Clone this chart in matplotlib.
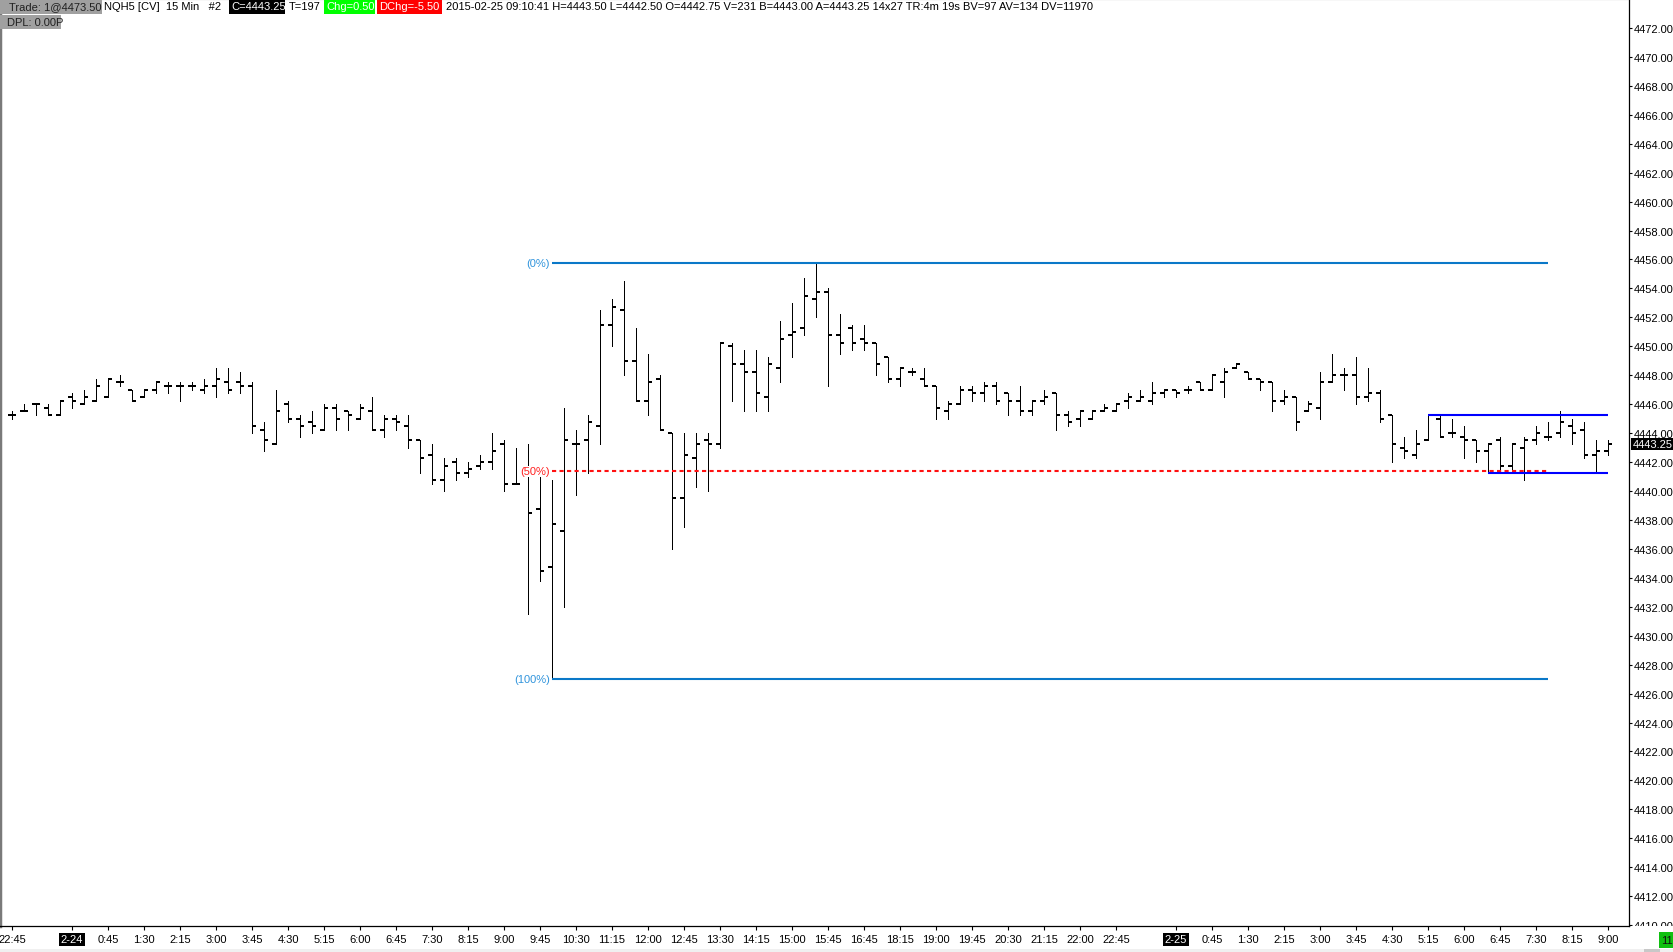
import matplotlib.pyplot as plt
from matplotlib.patches import Rectangle

# ---------------------------------------------------------------------------
#       DATA  (NQH5, 15 min bars, 2015-02-23 22:45 -> 2015-02-25 09:00)
# ---------------------------------------------------------------------------
opens = [4445.25, 4445.5, 4446.0, 4445.75, 4445.25, 4446.5, 4446.0, 4446.25, 4446.5, 4447.5,
         4447.0, 4446.5, 4447.0, 4447.25, 4447.25, 4447.25, 4447.0, 4447.25, 4447.5, 4447.5,
         4447.25, 4444.25, 4443.25, 4446.0, 4445.0, 4444.75, 4444.25, 4445.75, 4445.5, 4445.0,
         4445.5, 4444.25, 4445.0, 4444.5, 4443.5, 4442.5, 4440.75, 4442.0, 4441.25, 4441.75,
         4442.0, 4443.25, 4440.5, 4441.25, 4438.75, 4434.75, 4437.25, 4443.25, 4443.5, 4444.5,
         4451.5, 4452.5, 4449.0, 4446.25, 4447.75, 4444.0, 4439.5, 4442.25, 4443.5, 4443.25,
         4450.0, 4448.75, 4448.25, 4446.5, 4448.5, 4450.75, 4451.25, 4453.25, 4453.75, 4450.75,
         4451.25, 4450.5, 4450.25, 4449.25, 4447.75, 4448.25, 4447.75, 4447.25, 4445.5, 4446.0,
         4447.0, 4446.75, 4447.25, 4446.75, 4446.25, 4445.5, 4446.25, 4446.75, 4445.25, 4445.0,
         4445.0, 4445.5, 4445.5, 4446.25, 4446.25, 4446.25, 4446.75, 4447.0, 4447.0, 4447.5,
         4447.0, 4447.5, 4448.5, 4448.25, 4447.75, 4447.5, 4446.25, 4446.5, 4445.5, 4445.75,
         4447.5, 4448.0, 4448.0, 4446.5, 4446.75, 4445.25, 4443.0, 4442.5, 4443.5, 4445.0,
         4444.0, 4443.75, 4443.5, 4442.75, 4443.5, 4441.75, 4443.0, 4443.5, 4443.75, 4444.0,
         4444.5, 4444.25, 4442.5, 4442.75]
highs = [4445.5, 4446.0, 4446.0, 4446.0, 4446.25, 4446.75, 4447.0, 4447.75, 4447.75, 4448.0,
         4447.0, 4447.0, 4447.5, 4447.5, 4447.5, 4447.5, 4447.75, 4448.5, 4448.5, 4448.25,
         4447.5, 4444.75, 4447.0, 4446.25, 4445.25, 4445.5, 4446.0, 4446.0, 4445.5, 4446.0,
         4446.5, 4445.25, 4445.25, 4445.25, 4443.5, 4443.25, 4442.25, 4442.25, 4442.0, 4442.5,
         4444.0, 4443.5, 4443.0, 4443.25, 4441.0, 4440.75, 4445.75, 4444.25, 4445.25, 4452.5,
         4453.25, 4454.5, 4451.25, 4449.5, 4448.0, 4444.0, 4444.0, 4444.0, 4444.0, 4450.25,
         4450.25, 4449.75, 4449.75, 4449.25, 4451.75, 4453.0, 4454.75, 4455.75, 4454.0, 4452.25,
         4451.5, 4451.5, 4450.25, 4449.25, 4448.5, 4448.5, 4448.5, 4447.25, 4446.25, 4447.25,
         4447.25, 4447.5, 4447.5, 4446.75, 4447.25, 4446.25, 4447.0, 4446.75, 4445.5, 4445.5,
         4445.5, 4446.0, 4446.0, 4446.75, 4447.0, 4447.5, 4447.0, 4447.0, 4447.25, 4447.5,
         4448.0, 4448.5, 4448.75, 4448.25, 4447.75, 4447.5, 4447.0, 4446.5, 4446.25, 4448.25,
         4449.5, 4448.5, 4449.25, 4448.5, 4447.0, 4445.25, 4443.75, 4444.25, 4445.25, 4445.25,
         4445.0, 4444.5, 4443.5, 4443.25, 4443.75, 4443.25, 4443.75, 4444.5, 4444.75, 4445.5,
         4445.0, 4444.75, 4443.5, 4443.5]
lows = [4445.0, 4445.5, 4445.25, 4445.25, 4445.25, 4445.75, 4446.0, 4446.25, 4446.5, 4447.25,
        4446.25, 4446.5, 4446.75, 4446.75, 4446.25, 4447.0, 4446.75, 4446.5, 4446.75, 4446.75,
        4444.0, 4442.75, 4443.25, 4444.75, 4443.75, 4444.0, 4444.25, 4444.25, 4444.25, 4445.0,
        4444.25, 4443.75, 4444.25, 4443.0, 4441.25, 4440.5, 4440.0, 4440.75, 4441.0, 4441.5,
        4441.5, 4440.0, 4440.5, 4431.5, 4433.75, 4427.0, 4432.0, 4439.75, 4441.25, 4443.25,
        4450.0, 4448.0, 4446.25, 4445.25, 4444.25, 4436.0, 4437.5, 4440.25, 4440.0, 4443.0,
        4446.25, 4445.5, 4445.5, 4445.5, 4447.5, 4449.25, 4450.75, 4452.0, 4447.25, 4449.5,
        4449.75, 4449.75, 4448.0, 4447.5, 4447.25, 4448.0, 4447.25, 4445.0, 4445.0, 4446.0,
        4446.25, 4446.25, 4446.0, 4445.25, 4445.25, 4445.25, 4446.0, 4444.25, 4444.5, 4444.5,
        4445.0, 4445.5, 4445.5, 4445.75, 4446.25, 4446.0, 4446.5, 4446.5, 4446.75, 4447.0,
        4447.0, 4446.5, 4448.5, 4447.75, 4447.0, 4445.5, 4446.0, 4444.25, 4445.5, 4445.0,
        4447.5, 4447.0, 4446.0, 4446.25, 4444.75, 4442.0, 4442.25, 4442.25, 4443.5, 4443.75,
        4443.75, 4442.25, 4442.0, 4441.25, 4441.5, 4441.5, 4440.75, 4443.25, 4443.5, 4443.75,
        4443.25, 4442.25, 4441.25, 4442.5]
closes = [4445.25, 4445.5, 4446.0, 4445.25, 4446.25, 4446.25, 4446.5, 4447.25, 4447.75, 4447.5,
          4446.25, 4447.0, 4447.5, 4447.25, 4447.25, 4447.25, 4447.25, 4447.75, 4447.0, 4447.25,
          4444.5, 4443.5, 4445.5, 4445.0, 4444.5, 4444.5, 4445.75, 4445.0, 4445.25, 4445.75,
          4444.25, 4445.0, 4444.75, 4443.5, 4442.25, 4440.75, 4441.75, 4441.25, 4441.5, 4442.0,
          4442.75, 4440.5, 4440.5, 4438.5, 4434.5, 4437.75, 4443.5, 4443.25, 4444.75, 4451.5,
          4452.75, 4449.0, 4446.25, 4447.5, 4444.25, 4439.5, 4442.5, 4443.25, 4443.25, 4450.25,
          4448.75, 4448.25, 4446.75, 4448.75, 4450.5, 4451.0, 4453.5, 4453.75, 4450.75, 4450.25,
          4450.25, 4450.25, 4448.75, 4447.75, 4448.5, 4448.25, 4447.25, 4445.75, 4446.0, 4447.0,
          4446.75, 4447.25, 4446.25, 4446.25, 4445.5, 4446.25, 4446.5, 4445.25, 4444.75, 4445.5,
          4445.5, 4445.75, 4446.0, 4446.5, 4446.5, 4446.75, 4447.0, 4446.75, 4447.0, 4447.0,
          4448.0, 4448.25, 4448.75, 4447.75, 4447.5, 4446.25, 4446.5, 4444.75, 4446.0, 4447.5,
          4448.0, 4448.0, 4446.5, 4446.75, 4445.0, 4443.25, 4442.75, 4443.25, 4445.25, 4443.75,
          4444.0, 4443.5, 4442.75, 4443.25, 4441.75, 4443.25, 4443.5, 4444.0, 4443.75, 4444.75,
          4444.0, 4442.5, 4442.75, 4443.25]

# x axis labels (bar index -> text)
tick_pos = [0, 5, 8, 11, 14, 17, 20, 23, 26, 29, 32, 35, 38, 41, 44, 47, 50, 53, 56, 59, 62, 65,
            68, 71, 74, 77, 80, 83, 86, 89, 92, 97, 100, 103, 106, 109, 112, 115, 118, 121, 124,
            127, 130, 133]
tick_text = ['22:45', '2-24', '0:45', '1:30', '2:15', '3:00', '3:45', '4:30', '5:15', '6:00',
             '6:45', '7:30', '8:15', '9:00', '9:45', '10:30', '11:15', '12:00', '12:45', '13:30',
             '14:15', '15:00', '15:45', '16:45', '18:15', '19:00', '19:45', '20:30', '21:15',
             '22:00', '22:45', '2-25', '0:45', '1:30', '2:15', '3:00', '3:45', '4:30', '5:15',
             '6:00', '6:45', '7:30', '8:15', '9:00']

# drawings on the chart
fib_end = 128
box_top, box_top_start = 4445.25, 118
box_bot, box_bot_start = 4441.25, 123
box_end = 133

# ---------------------------------------------------------------------------
#       PLOT
# ---------------------------------------------------------------------------
W, H = 1673, 953
plt.rcParams['font.family'] = ['Liberation Sans', 'DejaVu Sans']
fig = plt.figure(figsize=(W / 100, H / 100), dpi=100)
ax = fig.add_axes([0, (H - 927) / H, 1629 / W, 927 / H])

n = len(closes)
xs = list(range(n))
tw = 0.32
ax.vlines(xs, lows, highs, color='black', lw=0.72, antialiased=False)
ax.hlines(opens, [x - tw for x in xs], xs, color='black', lw=1.44, antialiased=False)
ax.hlines(closes, xs, [x + tw for x in xs], color='black', lw=1.44, antialiased=False)

# fibonacci retracement
hi, lo = max(highs), min(lows)
fib_start = lows.index(lo)
mid = (hi + lo) / 2
ax.hlines([hi, lo], fib_start, fib_end, color='#0a78c8', lw=1.5)
ax.hlines(mid, fib_start, fib_end, color='#ff1010', lw=1.5, linestyles=(0, (2, 1.6)))
for val, txt, col in [(hi, '(0%)', '#3094dc'), (mid, '(50%)', '#ff2020'), (lo, '(100%)', '#3094dc')]:
    ax.text(fib_start - 0.15, val, txt, ha='right', va='center', color=col, fontsize=8, zorder=5,
            bbox=dict(facecolor='white', edgecolor='none', pad=0.3))

# range box
ax.hlines(box_top, box_top_start, box_end, color='#0000ff', lw=1.5)
ax.hlines(box_bot, box_bot_start, box_end, color='#0000ff', lw=1.5)

ax.set_xlim(-1, 134.75)
ax.set_ylim(4409.94, 4474.0)

ax.yaxis.tick_right()
yt = [4410 + 2 * k for k in range(32)]
ax.set_yticks(yt)
ax.set_yticklabels(['%.2f' % v for v in yt])
ax.tick_params(axis='y', direction='out', length=2.5, width=0.8, pad=0.6, labelsize=8)
ax.set_xticks(tick_pos)
ax.set_xticklabels(tick_text)
ax.tick_params(axis='x', direction='out', length=3, width=0.8, pad=3, labelsize=8)
for lbl in ax.get_xticklabels():
    if '-' in lbl.get_text():
        lbl.set_color('white')
        lbl.set_bbox(dict(facecolor='black', edgecolor='none', pad=1.2))

for s in ['right', 'bottom']:
    ax.spines[s].set_color('black')
    ax.spines[s].set_linewidth(0.9)
ax.spines['left'].set_color('#7a7a7a')
ax.spines['left'].set_linewidth(2.5)
ax.spines['top'].set_color('#5a5a5a')
ax.spines['top'].set_linewidth(1.5)

# last price marker on the price scale
ax.text(1.002, closes[-1], '%.2f' % closes[-1], transform=ax.get_yaxis_transform(),
        ha='left', va='center', color='white', fontsize=8, clip_on=False,
        bbox=dict(facecolor='black', edgecolor='none', pad=1.0))


def rect(x0, y0, x1, y1, color, z=1):
    fig.add_artist(Rectangle((x0 / W, 1 - y1 / H), (x1 - x0) / W, (y1 - y0) / H,
                             transform=fig.transFigure, facecolor=color, edgecolor='none', zorder=z))


def ftext(x, y, s, color='black'):
    fig.text(x / W, 1 - y / H, s, ha='left', va='center', color=color, fontsize=8, zorder=3)


# cover lower half of the bottom price label, bottom strips
rect(1631, 927, W, H, 'white')
rect(0, 950, W, H, '#f0f0f0')
rect(1644, 950, 1660, H, '#c8c8c8')
rect(1659, 933, W, 949, '#10c010')
ftext(1661, 941, '11', '#101010')

# header
rect(0, 0, 102, 15, '#a0a0a0')
rect(0, 16, 61, 30, '#a0a0a0')
rect(229, 0, 285, 15, 'black')
rect(324, 0, 375, 15, '#00ff00')
rect(377, 0, 442, 15, '#ff0000')
ftext(9, 7.5, 'Trade: 1@4473.50', '#202020')
ftext(104, 7.5, 'NQH5 [CV]  15 Min   #2')
ftext(231, 7.5, 'C=4443.25', 'white')
ftext(289, 7.5, 'T=197')
ftext(326, 7.5, 'Chg=0.50', 'white')
ftext(379, 7.5, 'DChg=-5.50', 'white')
ftext(446, 7.5, '2015-02-25 09:10:41 H=4443.50 L=4442.50 O=4442.75 V=231 B=4443.00 '
                'A=4443.25 14x27 TR:4m 19s BV=97 AV=134 DV=11970')
ftext(7, 23, 'DPL: 0.00P', '#202020')

fig.savefig('out.png', dpi=100)
